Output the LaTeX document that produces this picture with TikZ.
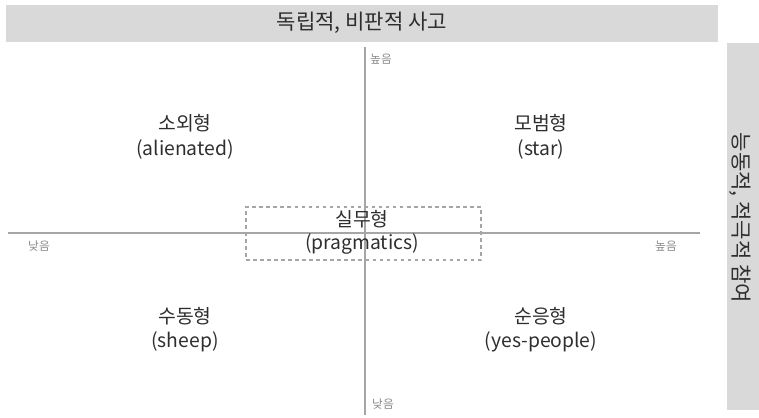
\documentclass[tikz,border=0pt]{standalone}
\usepackage{fontspec}
\setmainfont{Noto Sans CJK KR}
\definecolor{barfill}{HTML}{D9D9D9}
\definecolor{axisgray}{HTML}{A6A6A6}
\definecolor{lowgray}{HTML}{8A8A8A}
\definecolor{labelgray}{HTML}{2E2E2E}

\begin{document}
\begin{tikzpicture}[x=0.03cm,y=-0.03cm]
    \tikzstyle{kind}=[font=\fontsize{16.5}{19}\selectfont,text=labelgray,inner sep=0pt]
    \tikzstyle{head}=[font=\fontsize{18}{20}\selectfont,text=labelgray,inner sep=0pt]
    \tikzstyle{level}=[font=\fontsize{10}{11}\selectfont,text=lowgray,inner sep=0pt]
    \useasboundingbox (0,0) rectangle (759,417);

    % grey bars
    \fill[barfill] (6,5) rectangle (718,42);
    \node[head] (top) at (362,23) {독립적, 비판적 사고};
    \fill[barfill] (727,43) rectangle (759,410);
    \node[head,rotate=-90] (right) at (740,218) {능동적, 적극적 참여};

    % axes
    \coordinate (W) at (8,233);
    \coordinate (E) at (700,233);
    \coordinate (N) at (365,47);
    \coordinate (S) at (365,415);
    \draw[axisgray,line width=1.2pt] (W) -- (E);
    \draw[axisgray,line width=1.2pt] (N) -- (S);

    \node[level] (lowW) at (39,246) {낮음};
    \node[level] (highE) at (666,246) {높음};
    \node[level] (highN) at (381,59) {높음};
    \node[level] (lowS) at (383,404) {낮음};

    % quadrants
    \foreach \name/\ko/\en/\x/\y in {alien/소외형/(alienated)/185/123,
                                     star/모범형/(star)/541/123,
                                     sheep/수동형/(sheep)/185/316,
                                     yes/순응형/(yes-people)/541/316}
    {
        \node[kind] (\name-ko) at (\x,\y) {\ko};
        \node[kind] (\name-en) at (\x,\y+26) {\en};
    }

    % centre
    \node[draw=axisgray,dashed,line width=0.9pt,minimum width=235*0.03cm,minimum height=53*0.03cm] (prag) at (363.5,233.5) {};
    \node[kind] (prag-ko) at (362,219) {실무형};
    \node[kind] (prag-en) at (362,244) {(pragmatics)};
\end{tikzpicture}
\end{document}
